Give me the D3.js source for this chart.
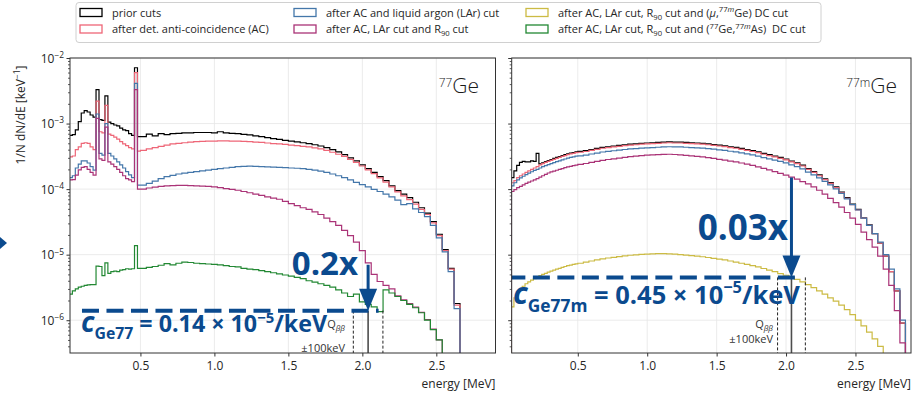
<!DOCTYPE html>
<html>
<head>
<meta charset="utf-8">
<script src="https://cdn.jsdelivr.net/npm/d3@7"></script>
<style>
  body { margin: 0; background: #fff; }
  svg text { font-family: "Open Sans", "Noto Sans", sans-serif; }
</style>
</head>
<body>
<svg id="chart" width="920" height="395"></svg>
<script>
// ---------------------------------------------------------------------------
// Energy binning (MeV): 20 keV bins up to 0.5 MeV, 40 keV bins above.
// ---------------------------------------------------------------------------
const fineEdges = d3.range(0, 25).map(i => +(0.02 + 0.02 * i).toFixed(2));   // 0.02 … 0.50
const coarseEdges = d3.range(1, 61).map(i => +(0.50 + 0.04 * i).toFixed(2)); // 0.54 … 2.90
const binEdges = fineEdges.concat(coarseEdges);                               // 85 edges, 84 bins

// ---------------------------------------------------------------------------
// 77Ge spectra, 1/N dN/dE [keV^-1] per bin
// ---------------------------------------------------------------------------
const ge77Prior = [
  6.6e-4, 6.8e-4, 8.0e-4, 1.07e-3, 1.45e-3, 1.58e-3, 1.5e-3, 1.35e-3, 1.25e-3, 3.3e-3, 1.15e-3, 1.12e-3,
  2.65e-3, 1.05e-3, 1.0e-3, 9.5e-4, 9.2e-4, 8.5e-4, 8.0e-4, 7.8e-4, 7.0e-4, 6.6e-4, 7.1e-3, 6.3e-4,
  6.3e-4, 6.9e-4, 6.5e-4, 7.0e-4, 6.8e-4, 7.0e-4, 7.1e-4, 7.2e-4, 7.2e-4, 7.3e-4,
  7.3e-4, 7.3e-4, 7.2e-4, 7.5e-4, 7.2e-4, 7.1e-4, 7.0e-4, 6.85e-4, 6.7e-4, 6.5e-4,
  6.3e-4, 6.1e-4, 5.9e-4, 5.75e-4, 5.55e-4, 5.4e-4, 5.25e-4, 5.1e-4, 4.95e-4, 4.75e-4,
  4.55e-4, 4.3e-4, 4.0e-4, 3.7e-4, 3.35e-4, 3.0e-4, 2.7e-4, 2.35e-4, 2.05e-4, 1.8e-4,
  1.55e-4, 1.35e-4, 1.12e-4, 9.5e-5, 8.4e-5, 7.4e-5, 6.3e-5, 5.2e-5, 4.3e-5, 3.2e-5,
  2.05e-5, 1.2e-5, 6.2e-6, 1.8e-6, 0, 0, 0, 0, 0, 0
];
const ge77AC = [
  3.1e-4, 3.2e-4, 4.0e-4, 4.4e-4, 5.0e-4, 5.1e-4, 5.0e-4, 4.4e-4, 4.0e-4, 2.2e-3, 7.5e-4, 7.2e-4,
  1.9e-3, 6.9e-4, 6.6e-4, 6.2e-4, 5.8e-4, 5.3e-4, 4.9e-4, 4.6e-4, 4.3e-4, 4.1e-4, 6.0e-3, 3.8e-4,
  3.9e-4, 4.1e-4, 4.3e-4, 4.5e-4, 4.7e-4, 4.9e-4, 5.0e-4, 5.1e-4, 5.2e-4, 5.3e-4,
  5.35e-4, 5.4e-4, 5.4e-4, 5.45e-4, 5.45e-4, 5.4e-4, 5.4e-4, 5.35e-4, 5.3e-4, 5.2e-4,
  5.15e-4, 5.05e-4, 4.95e-4, 4.9e-4, 4.8e-4, 4.7e-4, 4.6e-4, 4.5e-4, 4.4e-4, 4.25e-4,
  4.1e-4, 3.9e-4, 3.65e-4, 3.4e-4, 3.15e-4, 2.85e-4, 2.55e-4, 2.25e-4, 1.97e-4, 1.72e-4,
  1.48e-4, 1.28e-4, 1.08e-4, 9.1e-5, 7.9e-5, 6.9e-5, 5.9e-5, 4.9e-5, 4.1e-5, 3.05e-5,
  1.95e-5, 1.15e-5, 6.0e-6, 1.7e-6, 0, 0, 0, 0, 0, 0
];
const ge77LAr = [
  1.5e-4, 1.6e-4, 2.1e-4, 2.4e-4, 2.7e-4, 2.7e-4, 2.5e-4, 2.2e-4, 1.95e-4, 1.4e-3, 3.5e-4, 3.3e-4,
  1.0e-3, 3.5e-4, 3.2e-4, 2.9e-4, 2.6e-4, 2.35e-4, 2.1e-4, 1.85e-4, 1.65e-4, 1.5e-4, 4.1e-3, 1.15e-4,
  1.15e-4, 1.22e-4, 1.32e-4, 1.45e-4, 1.55e-4, 1.62e-4, 1.7e-4, 1.75e-4, 1.8e-4, 1.85e-4,
  1.9e-4, 1.95e-4, 2.0e-4, 2.05e-4, 2.1e-4, 2.15e-4, 2.2e-4, 2.22e-4, 2.24e-4, 2.22e-4,
  2.2e-4, 2.18e-4, 2.16e-4, 2.14e-4, 2.12e-4, 2.1e-4, 2.08e-4, 2.05e-4, 2.0e-4, 1.95e-4,
  1.88e-4, 1.8e-4, 1.7e-4, 1.6e-4, 1.5e-4, 1.38e-4, 1.27e-4, 1.17e-4, 1.08e-4, 9.9e-5,
  9.2e-5, 8.4e-5, 7.6e-5, 6.8e-5, 5.8e-5, 6.0e-5, 5.0e-5, 4.4e-5, 3.8e-5, 2.8e-5,
  1.8e-5, 1.1e-5, 5.5e-6, 1.5e-6, 0, 0, 0, 0, 0, 0
];
const ge77R90 = [
  1.38e-4, 1.4e-4, 1.64e-4, 1.96e-4, 2.15e-4, 2.2e-4, 2.0e-4, 1.8e-4, 1.64e-4, 1.2e-3, 2.9e-4, 2.75e-4,
  8.8e-4, 2.6e-4, 2.4e-4, 2.2e-4, 2.0e-4, 1.8e-4, 1.6e-4, 1.45e-4, 1.38e-4, 1.3e-4, 3.3e-3, 1.0e-4,
  1.0e-4, 1.04e-4, 1.07e-4, 1.1e-4, 1.12e-4, 1.13e-4, 1.14e-4, 1.14e-4, 1.13e-4, 1.12e-4,
  1.11e-4, 1.1e-4, 1.08e-4, 1.05e-4, 1.02e-4, 9.9e-5, 9.6e-5, 9.2e-5, 8.8e-5, 8.4e-5,
  8.0e-5, 7.6e-5, 7.3e-5, 7.0e-5, 6.5e-5, 6.0e-5, 5.6e-5, 5.2e-5, 4.9e-5, 4.5e-5,
  4.1e-5, 3.6e-5, 3.2e-5, 2.8e-5, 2.35e-5, 1.95e-5, 1.55e-5, 1.15e-5, 7.5e-6, 5.0e-6,
  3.9e-6, 3.4e-6, 3.0e-6, 2.35e-6, 2.05e-6, 1.8e-6, 1.58e-6, 1.32e-6, 1.02e-6, 7.3e-7,
  5.0e-7, 2.5e-7, 0, 0, 0, 0, 0, 0, 0, 0
];
const ge77DC = [
  2.5e-6, 2.8e-6, 3.0e-6, 3.2e-6, 3.3e-6, 3.4e-6, 3.45e-6, 3.5e-6, 3.5e-6, 6.7e-6, 6.6e-6, 4.8e-6,
  7.5e-6, 5.2e-6, 5.5e-6, 5.6e-6, 5.5e-6, 5.8e-6, 5.9e-6, 6.1e-6, 6.0e-6, 6.1e-6, 1.37e-5, 6.2e-6,
  6.2e-6, 6.4e-6, 6.6e-6, 6.9e-6, 7.3e-6, 7.0e-6, 7.4e-6, 7.7e-6, 7.6e-6, 7.4e-6,
  7.3e-6, 7.2e-6, 7.1e-6, 7.0e-6, 6.8e-6, 6.6e-6, 6.5e-6, 6.2e-6, 6.0e-6, 5.9e-6,
  5.7e-6, 5.5e-6, 5.3e-6, 5.1e-6, 4.9e-6, 4.7e-6, 4.5e-6, 4.3e-6, 4.0e-6, 3.8e-6,
  3.6e-6, 3.4e-6, 3.2e-6, 2.9e-6, 2.6e-6, 2.3e-6, 2.5e-6, 1.9e-6, 1.75e-6, 1.6e-6,
  1.35e-6, 2.9e-6, 2.6e-6, 2.3e-6, 2.0e-6, 1.75e-6, 1.55e-6, 1.3e-6, 1.0e-6, 7.2e-7,
  5.0e-7, 2.5e-7, 0, 0, 0, 0, 0, 0, 0, 0
];

// ---------------------------------------------------------------------------
// 77mGe spectra
// ---------------------------------------------------------------------------
const ge77mPrior = [
  1.5e-4, 1.9e-4, 2.3e-4, 2.55e-4, 2.65e-4, 2.6e-4, 2.6e-4, 2.7e-4, 2.65e-4, 3.5e-4, 2.42e-4, 2.52e-4,
  2.63e-4, 2.73e-4, 2.83e-4, 2.94e-4, 3.04e-4, 3.14e-4, 3.24e-4, 3.35e-4, 3.45e-4, 3.55e-4, 3.6e-4, 3.7e-4,
  3.76e-4, 3.86e-4, 4.02e-4, 4.17e-4, 4.33e-4, 4.43e-4, 4.53e-4, 4.64e-4, 4.74e-4, 4.84e-4,
  4.89e-4, 5.0e-4, 5.05e-4, 5.1e-4, 5.15e-4, 5.2e-4, 5.25e-4, 5.2e-4, 5.2e-4, 5.15e-4,
  5.1e-4, 5.05e-4, 5.0e-4, 4.89e-4, 4.79e-4, 4.69e-4, 4.58e-4, 4.43e-4, 4.33e-4, 4.17e-4,
  4.02e-4, 3.86e-4, 3.71e-4, 3.5e-4, 3.35e-4, 3.19e-4, 3.04e-4, 2.88e-4, 2.68e-4, 2.52e-4,
  2.32e-4, 2.06e-4, 1.85e-4, 1.65e-4, 1.44e-4, 1.26e-4, 1.08e-4, 9.0e-5, 7.4e-5, 5.9e-5,
  4.9e-5, 3.65e-5, 2.85e-5, 2.1e-5, 1.5e-5, 9.5e-6, 5.5e-6, 2.8e-6, 9.0e-7, 0
];
const ge77mAC = [
  1.25e-4, 1.35e-4, 1.5e-4, 1.6e-4, 1.7e-4, 1.8e-4, 1.9e-4, 2.0e-4, 2.1e-4, 2.2e-4, 2.35e-4, 2.45e-4,
  2.55e-4, 2.65e-4, 2.75e-4, 2.85e-4, 2.95e-4, 3.05e-4, 3.15e-4, 3.25e-4, 3.35e-4, 3.45e-4, 3.5e-4, 3.6e-4,
  3.65e-4, 3.75e-4, 3.9e-4, 4.05e-4, 4.2e-4, 4.3e-4, 4.4e-4, 4.5e-4, 4.6e-4, 4.7e-4,
  4.75e-4, 4.85e-4, 4.9e-4, 4.95e-4, 5.0e-4, 5.05e-4, 5.1e-4, 5.05e-4, 5.05e-4, 5.0e-4,
  4.95e-4, 4.9e-4, 4.85e-4, 4.75e-4, 4.65e-4, 4.55e-4, 4.45e-4, 4.3e-4, 4.2e-4, 4.05e-4,
  3.9e-4, 3.75e-4, 3.6e-4, 3.4e-4, 3.25e-4, 3.1e-4, 2.95e-4, 2.8e-4, 2.6e-4, 2.45e-4,
  2.25e-4, 2.0e-4, 1.8e-4, 1.6e-4, 1.4e-4, 1.22e-4, 1.05e-4, 8.8e-5, 7.2e-5, 5.8e-5,
  4.8e-5, 3.6e-5, 2.8e-5, 2.1e-5, 1.5e-5, 9.5e-6, 5.5e-6, 2.8e-6, 9.0e-7, 0
];
const ge77mLAr = [
  1.12e-4, 1.25e-4, 1.38e-4, 1.48e-4, 1.57e-4, 1.66e-4, 1.75e-4, 1.84e-4, 1.93e-4, 2.0e-4, 2.1e-4, 2.2e-4,
  2.28e-4, 2.36e-4, 2.45e-4, 2.53e-4, 2.62e-4, 2.7e-4, 2.8e-4, 2.88e-4, 2.97e-4, 3.05e-4, 3.1e-4, 3.18e-4,
  3.22e-4, 3.3e-4, 3.43e-4, 3.55e-4, 3.68e-4, 3.77e-4, 3.85e-4, 3.93e-4, 4.02e-4, 4.1e-4,
  4.15e-4, 4.22e-4, 4.27e-4, 4.3e-4, 4.35e-4, 4.4e-4, 4.43e-4, 4.4e-4, 4.4e-4, 4.35e-4,
  4.3e-4, 4.27e-4, 4.22e-4, 4.15e-4, 4.07e-4, 3.98e-4, 3.9e-4, 3.78e-4, 3.7e-4, 3.57e-4,
  3.44e-4, 3.32e-4, 3.18e-4, 3.02e-4, 2.9e-4, 2.77e-4, 2.64e-4, 2.51e-4, 2.34e-4, 2.2e-4,
  2.03e-4, 1.82e-4, 1.65e-4, 1.48e-4, 1.31e-4, 1.16e-4, 1.01e-4, 8.6e-5, 7.1e-5, 5.8e-5,
  4.8e-5, 3.6e-5, 2.8e-5, 2.1e-5, 1.55e-5, 1.0e-5, 6.0e-6, 3.0e-6, 1.0e-6, 0
];
const ge77mR90 = [
  9.2e-5, 9.8e-5, 1.05e-4, 1.1e-4, 1.16e-4, 1.22e-4, 1.28e-4, 1.33e-4, 1.38e-4, 1.45e-4, 1.52e-4, 1.6e-4,
  1.68e-4, 1.76e-4, 1.83e-4, 1.88e-4, 1.94e-4, 2.0e-4, 2.06e-4, 2.12e-4, 2.18e-4, 2.23e-4, 2.28e-4, 2.33e-4,
  2.38e-4, 2.46e-4, 2.55e-4, 2.65e-4, 2.75e-4, 2.83e-4, 2.9e-4, 2.97e-4, 3.05e-4, 3.12e-4,
  3.18e-4, 3.25e-4, 3.3e-4, 3.33e-4, 3.36e-4, 3.38e-4, 3.4e-4, 3.37e-4, 3.34e-4, 3.28e-4,
  3.22e-4, 3.16e-4, 3.1e-4, 3.02e-4, 2.94e-4, 2.85e-4, 2.76e-4, 2.68e-4, 2.6e-4, 2.5e-4,
  2.4e-4, 2.3e-4, 2.18e-4, 2.07e-4, 1.96e-4, 1.85e-4, 1.74e-4, 1.64e-4, 1.52e-4, 1.42e-4,
  1.3e-4, 1.2e-4, 1.08e-4, 9.6e-5, 8.4e-5, 7.2e-5, 6.2e-5, 5.3e-5, 4.4e-5, 3.6e-5,
  2.9e-5, 2.2e-5, 1.7e-5, 1.3e-5, 9.5e-6, 6.0e-6, 3.4e-6, 1.4e-6, 4.5e-7, 0
];
const ge77mDC = [
  1.6e-6, 2.2e-6, 2.7e-6, 3.0e-6, 3.3e-6, 3.6e-6, 3.85e-6, 4.1e-6, 4.3e-6, 4.55e-6, 4.8e-6, 5.0e-6,
  5.2e-6, 5.4e-6, 5.6e-6, 5.8e-6, 6.0e-6, 6.2e-6, 6.4e-6, 6.6e-6, 6.8e-6, 6.95e-6, 7.1e-6, 7.25e-6,
  7.4e-6, 7.7e-6, 8.0e-6, 8.3e-6, 8.6e-6, 8.9e-6, 9.1e-6, 9.35e-6, 9.6e-6, 9.8e-6,
  9.95e-6, 1.01e-5, 1.02e-5, 1.03e-5, 1.035e-5, 1.04e-5, 1.03e-5, 1.02e-5, 1.0e-5, 9.85e-6,
  9.7e-6, 9.5e-6, 9.3e-6, 9.05e-6, 8.8e-6, 8.55e-6, 8.3e-6, 8.0e-6, 7.7e-6, 7.4e-6,
  7.1e-6, 6.8e-6, 6.5e-6, 6.15e-6, 5.8e-6, 5.5e-6, 5.15e-6, 4.85e-6, 4.55e-6, 4.2e-6,
  3.85e-6, 3.5e-6, 3.15e-6, 2.8e-6, 2.5e-6, 2.2e-6, 1.95e-6, 1.7e-6, 1.45e-6, 1.22e-6,
  1.0e-6, 8.2e-7, 6.6e-7, 5.2e-7, 4.0e-7, 3.0e-7, 2.2e-7, 1.5e-7, 1.0e-7, 0
];

// Axis ticks
const energyTicks = [0.5, 1.0, 1.5, 2.0, 2.5];
const decadeExponents = [-6, -5, -4, -3, -2];

// Q_bb window and background-index annotations
const qbb = 2.039;           // MeV
const qbbHalfWindow = 0.1;   // MeV
const cGe77 = 0.14e-5;       // counts / keV
const cGe77m = 0.45e-5;
const reductionGe77 = 0.2;
const reductionGe77m = 0.03;

// ---------------------------------------------------------------------------
const COL = { prior: "#000000", ac: "#EE6677", lar: "#4477AA", r90: "#AA3377", dcM: "#CCBB44", dc: "#228833" };
const ANN = "#0b4a8e";
const FONT = '"Open Sans", "Noto Sans", sans-serif';
const BOLD = 'Lato, "Open Sans", sans-serif';
const TXT = "#262626";

const svg = d3.select("#chart");
const plotTop = 58, plotBottom = 353;
const yScale = d3.scaleLog().domain([Math.pow(10, -6.5), 1e-2]).range([plotBottom, plotTop]);
const xDomain = [0.024, 2.9];

// minor y ticks: 2..9 x each decade inside the domain
const minorTicks = [];
for (let e = -7; e <= -3; e++) for (let k = 2; k <= 9; k++) {
  const v = k * Math.pow(10, e);
  if (v >= yScale.domain()[0] && v <= yScale.domain()[1]) minorTicks.push(v);
}

// Text with sub/superscript pieces
function richText(sel, parts, base) {
  let shift = 0;
  parts.forEach(([str, kind]) => {
    const target = kind === "sub" ? base * 0.3 : (kind === "sup" || kind === "supit") ? -base * 0.38 : 0;
    const t = sel.append("tspan").text(str);
    if (target - shift !== 0) t.attr("dy", target - shift);
    shift = target;
    if (kind === "sub" || kind === "sup" || kind === "supit") t.attr("font-size", base * 0.7);
    if (kind === "it" || kind === "supit") t.attr("font-style", "italic");
  });
}

const panels = [
  {
    id: "ge77", x0: 70, x1: 495.5,
    series: [[ge77Prior, COL.prior], [ge77AC, COL.ac], [ge77LAr, COL.lar], [ge77R90, COL.r90], [ge77DC, COL.dc]],
    c: cGe77, reduction: reductionGe77, factorText: "0.2x", sub: "Ge77",
    dashFrom: 0.105, dashTo: 2.11,
    factorPos: [358, 275], factorSize: 33, cPos: [81, 332], cScale: 0.93, qPos: [345, 328, 352],
    title: [["77", "sup"], ["Ge"]], titleEnd: 479,
    yLabels: true
  },
  {
    id: "ge77m", x0: 511.7, x1: 911,
    series: [[ge77mPrior, COL.prior], [ge77mAC, COL.ac], [ge77mLAr, COL.lar], [ge77mR90, COL.r90], [ge77mDC, COL.dcM]],
    c: cGe77m, reduction: reductionGe77m, factorText: "0.03x", sub: "Ge77m",
    dashFrom: 0.0, dashTo: 2.11,
    factorPos: [788, 240], factorSize: 35, cPos: [513, 303.5], cScale: 1.02, qPos: [773, 328, 343],
    title: [["77m", "sup"], ["Ge"]], titleEnd: 897,
    yLabels: false
  }
];

panels.forEach(p => {
  const x = d3.scaleLinear().domain(xDomain).range([p.x0, p.x1]);
  const g = svg.append("g");

  // grid
  g.append("g").selectAll("line").data(energyTicks).join("line")
    .attr("x1", d => x(d)).attr("x2", d => x(d)).attr("y1", plotTop).attr("y2", plotBottom)
    .attr("stroke", "#e6e6e6").attr("stroke-width", 0.8);
  g.append("g").selectAll("line").data(decadeExponents.map(e => Math.pow(10, e))).join("line")
    .attr("x1", p.x0).attr("x2", p.x1).attr("y1", d => yScale(d)).attr("y2", d => yScale(d))
    .attr("stroke", "#e6e6e6").attr("stroke-width", 0.8);

  const clipId = "clip-" + p.id;
  svg.append("clipPath").attr("id", clipId).append("rect")
    .attr("x", p.x0).attr("y", plotTop).attr("width", p.x1 - p.x0).attr("height", plotBottom - plotTop);
  const plot = g.append("g").attr("clip-path", `url(#${clipId})`);

  // step histograms
  const floorY = plotBottom + 20;
  const line = d3.line()
    .x(d => x(d.e))
    .y(d => d.v > 0 ? yScale(d.v) : floorY)
    .curve(d3.curveStepAfter);
  p.series.forEach(([vals, color]) => {
    const pts = [{ e: binEdges[0], v: 0 }];
    vals.forEach((v, i) => pts.push({ e: binEdges[i], v }));
    pts.push({ e: binEdges[vals.length], v: 0 });
    plot.append("path").attr("d", line(pts))
      .attr("fill", "none").attr("stroke", color).attr("stroke-width", 1.2).attr("stroke-linejoin", "miter");
  });

  // Q_bb window
  const yc = yScale(p.c);
  plot.append("line").attr("x1", x(qbb)).attr("x2", x(qbb)).attr("y1", yc).attr("y2", plotBottom)
    .attr("stroke", "#4d4d4d").attr("stroke-width", 1.6);
  [qbb - qbbHalfWindow, qbb + qbbHalfWindow].forEach(e => {
    plot.append("line").attr("x1", x(e)).attr("x2", x(e)).attr("y1", yc).attr("y2", plotBottom)
      .attr("stroke", "#222").attr("stroke-width", 1).attr("stroke-dasharray", "3,2");
  });

  // background index level
  plot.append("line").attr("x1", x(p.dashFrom)).attr("x2", x(p.dashTo)).attr("y1", yc).attr("y2", yc)
    .attr("stroke", ANN).attr("stroke-width", 4).attr("stroke-dasharray", "17,7.5");

  // reduction arrow from c/reduction down to c
  const yTop = yScale(p.c / p.reduction);
  const headH = 22, headW = 9;
  plot.append("line").attr("x1", x(qbb)).attr("x2", x(qbb)).attr("y1", yTop).attr("y2", yc - headH + 2)
    .attr("stroke", ANN).attr("stroke-width", 3);
  plot.append("path")
    .attr("d", `M${x(qbb) - headW},${yc - headH}L${x(qbb) + headW},${yc - headH}L${x(qbb)},${yc}Z`)
    .attr("fill", ANN);

  g.append("text").attr("x", p.factorPos[0]).attr("y", p.factorPos[1])
    .attr("text-anchor", "end").attr("font-family", BOLD).attr("font-weight", 700)
    .attr("font-size", p.factorSize).attr("fill", ANN).text(p.factorText);

  // background index label: symbol with subscript, then the value
  const s = p.cScale;
  const cSym = g.append("text").attr("x", p.cPos[0]).attr("y", p.cPos[1])
    .attr("font-family", BOLD).attr("font-weight", 700).attr("fill", ANN);
  cSym.append("tspan").text("c").attr("font-size", 30 * s).attr("font-style", "italic");
  cSym.append("tspan").text(p.sub).attr("font-size", 17 * s).attr("dy", 8 * s);
  const symW = cSym.node().getComputedTextLength();
  const cVal = g.append("text").attr("x", p.cPos[0] + symW).attr("y", p.cPos[1])
    .attr("font-family", BOLD).attr("font-weight", 700).attr("fill", ANN).style("white-space", "pre");
  cVal.append("tspan").text(` = ${(p.c / 1e-5).toFixed(2)} × 10`).attr("font-size", 25 * s);
  cVal.append("tspan").text("−5").attr("font-size", 16 * s).attr("dy", -10 * s);
  cVal.append("tspan").text("/keV").attr("font-size", 25 * s).attr("dy", 10 * s);

  const q1 = g.append("text").attr("x", p.qPos[0]).attr("y", p.qPos[1]).attr("text-anchor", "end")
    .attr("font-size", 11).attr("fill", "#333").attr("font-family", FONT);
  q1.append("tspan").text("Q");
  q1.append("tspan").text("ββ").attr("font-size", 8).attr("font-style", "italic").attr("dy", 2.5);
  g.append("text").attr("x", p.qPos[0]).attr("y", p.qPos[2]).attr("text-anchor", "end")
    .attr("font-size", 11).attr("fill", "#333").attr("font-family", FONT).text("±100keV");

  // frame
  g.append("rect").attr("x", p.x0).attr("y", plotTop).attr("width", p.x1 - p.x0).attr("height", plotBottom - plotTop)
    .attr("fill", "none").attr("stroke", "#333").attr("stroke-width", 1);

  // x axis
  const gx = g.append("g").attr("transform", `translate(0,${plotBottom})`)
    .call(d3.axisBottom(x).tickValues(energyTicks).tickFormat(d3.format(".1f")).tickSize(3.5).tickPadding(5));
  gx.select(".domain").remove();
  gx.attr("font-family", FONT).attr("font-size", 12);
  gx.selectAll("text").attr("fill", TXT);
  gx.selectAll("line").attr("stroke", "#333");

  // y axis (major + minor ticks)
  const gy = g.append("g").attr("transform", `translate(${p.x0},0)`)
    .call(d3.axisLeft(yScale).tickValues(decadeExponents.map(e => Math.pow(10, e))).tickSize(3.5).tickFormat(""));
  gy.select(".domain").remove();
  gy.selectAll("line").attr("stroke", "#333");
  const gym = g.append("g").attr("transform", `translate(${p.x0},0)`)
    .call(d3.axisLeft(yScale).tickValues(minorTicks).tickSize(2).tickFormat(""));
  gym.select(".domain").remove();
  gym.selectAll("line").attr("stroke", "#333").attr("stroke-width", 0.8);

  if (p.yLabels) {
    decadeExponents.forEach(e => {
      const t = g.append("text").attr("x", p.x0 - 6).attr("y", yScale(Math.pow(10, e)) + 4.5)
        .attr("text-anchor", "end").attr("font-size", 12).attr("fill", TXT).attr("font-family", FONT);
      richText(t, [["10"], ["−" + Math.abs(e), "sup"]], 12);
    });
  }

  // x label
  g.append("text").attr("x", p.x1).attr("y", 388).attr("text-anchor", "end")
    .attr("font-size", 12).attr("fill", TXT).attr("font-family", FONT).text("energy [MeV]");

  // isotope title
  const tt = g.append("text").attr("x", p.titleEnd).attr("y", 93).attr("text-anchor", "end")
    .attr("font-size", 21).attr("font-weight", 300).attr("fill", "#1a1a1a").attr("font-family", FONT);
  richText(tt, p.title, 17);
  tt.selectAll("tspan").filter((d, i) => i === 1).attr("font-size", 21);
});

// y axis title
const yl = svg.append("text").attr("transform", "translate(25,115) rotate(-90)")
  .attr("text-anchor", "middle").attr("font-size", 12).attr("fill", TXT).attr("font-family", FONT);
richText(yl, [["1/N dN/dE [keV"], ["−1", "sup"], ["]"]], 12);

// arrowhead entering from the left margin
svg.append("path").attr("d", "M0,237L7,243L0,249Z").attr("fill", ANN);

// ---------------------------------------------------------------------------
// legend
// ---------------------------------------------------------------------------
const legendItems = [
  { color: COL.prior, parts: [["prior cuts"]] },
  { color: COL.ac, parts: [["after det. anti-coincidence (AC)"]] },
  { color: COL.lar, parts: [["after AC and liquid argon (LAr) cut"]] },
  { color: COL.r90, parts: [["after AC, LAr cut and R"], ["90", "sub"], [" cut"]] },
  { color: COL.dcM, parts: [["after AC, LAr cut, R"], ["90", "sub"], [" cut and ("], ["μ", "it"], [","], ["77", "sup"], ["m", "supit"], ["Ge) DC cut"]] },
  { color: COL.dc, parts: [["after AC, LAr cut, R"], ["90", "sub"], [" cut and ("], ["77", "sup"], ["Ge,"], ["77", "sup"], ["m", "supit"], ["As)  DC cut"]] }
];
const legendCols = [80, 294, 526], legendRows = [12.5, 29];
const lg = svg.append("g");
lg.append("rect").attr("x", 76).attr("y", 2.5).attr("width", 745).attr("height", 40).attr("rx", 3)
  .attr("fill", "#fff").attr("stroke", "#d0d0d0").attr("stroke-width", 1);
legendItems.forEach((it, i) => {
  const cx = legendCols[Math.floor(i / 2)], cy = legendRows[i % 2];
  lg.append("rect").attr("x", cx).attr("y", cy - 4).attr("width", 22).attr("height", 8)
    .attr("fill", "none").attr("stroke", it.color).attr("stroke-width", 1.3);
  const t = lg.append("text").attr("x", cx + 32).attr("y", cy + 4)
    .attr("font-size", 11).attr("fill", TXT).attr("font-family", FONT).style("white-space", "pre");
  richText(t, it.parts, 11);
});
</script>
</body>
</html>
